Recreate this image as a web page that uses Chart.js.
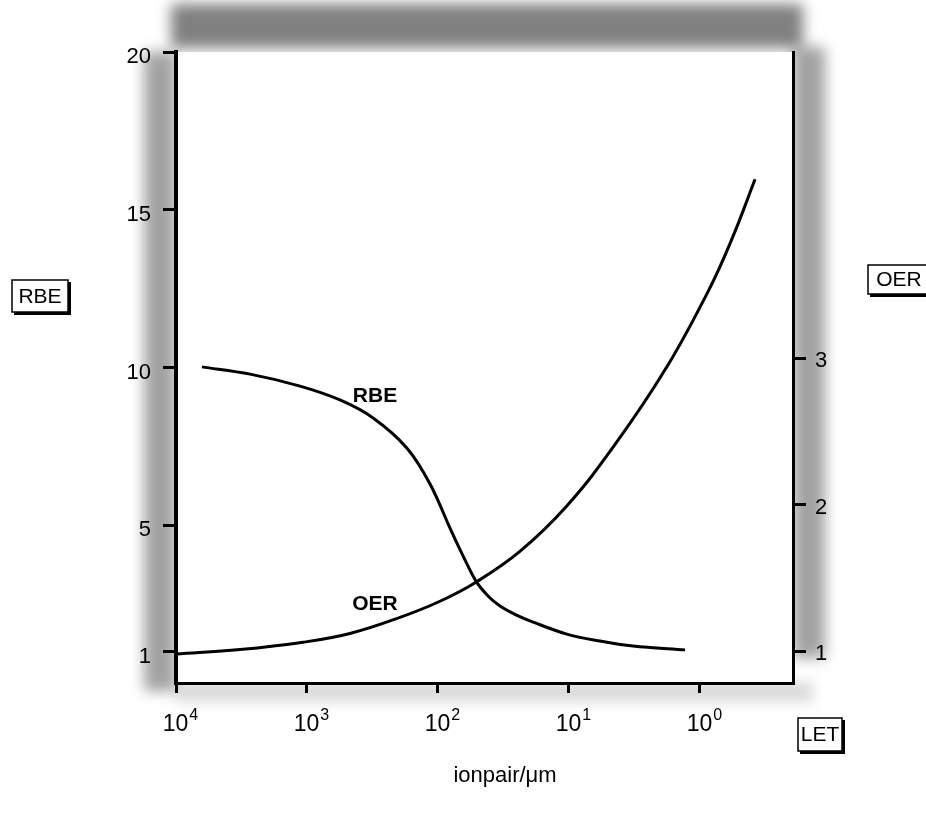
<!DOCTYPE html>
<html>
<head>
<meta charset="utf-8">
<script src="https://cdn.jsdelivr.net/npm/chart.js@4.4.0/dist/chart.umd.min.js"></script>
<style>
  html, body { margin: 0; padding: 0; background: #fff; }
</style>
</head>
<body>
<canvas id="letChart" width="926" height="814"></canvas>
<script>
// x axis: LET in ionpair/um, log scale running from 10^4 down to ~0.2
const xTicks = [10000, 1000, 100, 10, 1];
const xTickExp = ['4', '3', '2', '1', '0'];
const rbeTicks = [1, 5, 10, 15, 20];
const oerTicks = [1, 2, 3];

// RBE curve (left axis)
const rbeLet = [6340, 2720, 1130, 560, 313, 173, 115, 81, 64.4, 51.3, 41.5, 33.6, 25.4, 18.8, 10.4, 5.8, 3.24, 1.30];
const rbeValues = [10.02, 9.79, 9.41, 8.97, 8.40, 7.45, 6.31, 4.91, 4.03, 3.23, 2.76, 2.44, 2.16, 1.93, 1.55, 1.33, 1.17, 1.05];

// OER curve (right axis)
const oerLet = [10000, 3250, 1070, 470, 195, 96.6, 51.3, 23.7, 10.4, 4.45, 1.79, 0.839, 0.56, 0.38];
const oerValues = [0.98, 1.01, 1.06, 1.12, 1.23, 1.34, 1.47, 1.68, 1.99, 2.41, 2.94, 3.48, 3.83, 4.22];

const FONT = '"Liberation Sans", Arial, sans-serif';

function toPoints(xs, ys) {
    return xs.map((x, i) => ({ x: x, y: ys[i] }));
}

// boxed label with a heavier right/bottom edge, like the original
function boxLabel(ctx, text, x, y, w, h) {
    ctx.fillStyle = '#fff';
    ctx.fillRect(x, y, w, h);
    ctx.strokeStyle = '#000';
    ctx.lineWidth = 1.5;
    ctx.strokeRect(x, y, w, h);
    ctx.lineWidth = 3;
    ctx.beginPath();
    ctx.moveTo(x + w + 1.5, y + 2);
    ctx.lineTo(x + w + 1.5, y + h + 1.5);
    ctx.lineTo(x + 2, y + h + 1.5);
    ctx.stroke();
    ctx.fillStyle = '#000';
    ctx.font = '21px ' + FONT;
    ctx.textAlign = 'center';
    ctx.textBaseline = 'middle';
    ctx.fillText(text, x + w / 2, y + h / 2 + 1);
}

const decorPlugin = {
    id: 'decor',
    beforeDraw(chart) {
        const { ctx, chartArea: a } = chart;
        ctx.save();
        ctx.fillStyle = '#fff';
        ctx.fillRect(0, 0, chart.width, chart.height);
        // halftone-like grey shading round the frame
        ctx.filter = 'blur(7px)';
        ctx.fillStyle = 'rgba(60,60,60,0.65)';
        ctx.fillRect(a.left - 5, 4, a.right - a.left + 15, a.top - 8);
        ctx.fillStyle = 'rgba(70,70,70,0.5)';
        ctx.fillRect(a.left - 32, a.top, 32, a.bottom - a.top + 8);
        ctx.fillRect(a.right, a.top - 5, 32, a.bottom - a.top - 20);
        ctx.fillStyle = 'rgba(70,70,70,0.22)';
        ctx.fillRect(a.left, a.bottom, a.right - a.left + 20, 18);
        ctx.filter = 'none';
        ctx.fillStyle = '#fff';
        ctx.fillRect(a.left, a.top, a.right - a.left, a.bottom - a.top);
        ctx.restore();
    },
    afterDraw(chart) {
        const { ctx, scales } = chart;
        ctx.save();
        ctx.fillStyle = '#000';
        ctx.font = '22px ' + FONT;
        ctx.textBaseline = 'middle';

        ctx.textAlign = 'right';
        rbeTicks.forEach(v => ctx.fillText(String(v), 151, scales.y.getPixelForValue(v) + 5));

        ctx.textAlign = 'left';
        oerTicks.forEach(v => ctx.fillText(String(v), 815, scales.y2.getPixelForValue(v) + 3));

        // 10^n labels
        ctx.textBaseline = 'alphabetic';
        xTicks.forEach((v, i) => {
            const px = scales.x.getPixelForValue(v);
            ctx.font = '23px ' + FONT;
            const wBase = ctx.measureText('10').width;
            ctx.font = '16px ' + FONT;
            const wExp = ctx.measureText(xTickExp[i]).width;
            const x0 = px + 4 - (wBase + wExp) / 2;
            ctx.textAlign = 'left';
            ctx.font = '23px ' + FONT;
            ctx.fillText('10', x0, 731);
            ctx.font = '16px ' + FONT;
            ctx.fillText(xTickExp[i], x0 + wBase + 1, 720);
        });

        // curve names
        ctx.font = 'bold 21px ' + FONT;
        ctx.textAlign = 'center';
        ctx.textBaseline = 'middle';
        ctx.fillText('RBE', 375, 396);
        ctx.fillText('OER', 375, 604);

        // axis title
        ctx.font = '22px ' + FONT;
        ctx.fillText('ionpair/\u03bcm', 505, 776);

        boxLabel(ctx, 'RBE', 12, 280, 56, 32);
        boxLabel(ctx, 'OER', 868, 265, 62, 29);
        boxLabel(ctx, 'LET', 798, 718, 44, 33);
        ctx.restore();
    }
};

const axisGrid = { drawOnChartArea: false, drawTicks: true, color: '#000', lineWidth: 3 };

new Chart(document.getElementById('letChart'), {
    type: 'line',
    data: {
        datasets: [{
            label: 'RBE',
            data: toPoints(rbeLet, rbeValues),
            yAxisID: 'y',
            borderColor: '#000',
            borderWidth: 3,
            pointRadius: 0,
            tension: 0.35,
            fill: false
        }, {
            label: 'OER',
            data: toPoints(oerLet, oerValues),
            yAxisID: 'y2',
            borderColor: '#000',
            borderWidth: 3,
            pointRadius: 0,
            tension: 0.4,
            fill: false
        }]
    },
    options: {
        responsive: false,
        animation: false,
        layout: { padding: { left: 163, right: 120, top: 52, bottom: 121 } },
        plugins: { legend: { display: false }, tooltip: { enabled: false } },
        scales: {
            x: {
                type: 'logarithmic',
                reverse: true,
                min: 0.195,
                max: 10000,
                afterBuildTicks: s => { s.ticks = xTicks.map(v => ({ value: v })); },
                afterFit: s => { s.height = 10; },
                ticks: { display: false },
                grid: Object.assign({}, axisGrid, { tickLength: 10 }),
                border: { color: '#000', width: 3 }
            },
            y: {
                type: 'linear',
                position: 'left',
                min: 0,
                max: 20,
                afterBuildTicks: s => { s.ticks = rbeTicks.map(v => ({ value: v })); },
                afterFit: s => { s.width = 13; },
                ticks: { display: false },
                grid: Object.assign({}, axisGrid, { tickLength: 13 }),
                border: { color: '#000', width: 4 }
            },
            y2: {
                type: 'linear',
                position: 'right',
                min: 0.782,
                max: 5.089,
                afterBuildTicks: s => { s.ticks = oerTicks.map(v => ({ value: v })); },
                afterFit: s => { s.width = 13; },
                ticks: { display: false },
                grid: Object.assign({}, axisGrid, { tickLength: 13 }),
                border: { color: '#000', width: 3 }
            }
        }
    },
    plugins: [decorPlugin]
});
</script>
</body>
</html>
